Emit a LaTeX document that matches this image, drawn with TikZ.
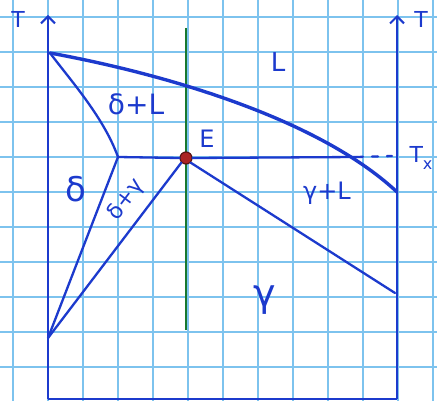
\documentclass[tikz,border=0pt]{standalone}
\usepackage{fontspec}
\setmainfont{DejaVu Sans}
\usetikzlibrary{arrows.meta}
\definecolor{gridblue}{RGB}{125,195,238}
\definecolor{ink}{RGB}{28,58,205}
\definecolor{stem}{RGB}{25,120,45}
\definecolor{dotred}{RGB}{170,35,35}
\tikzset{
  gridline/.style={gridblue,line width=2pt},
  axis/.style={ink,line width=2.4pt},
  phase/.style={ink,line width=2.3pt,line cap=round},
  liq/.style={ink,line width=3.4pt,line cap=round},
  lbl/.style={ink,inner sep=0pt},
}
\begin{document}
\begin{tikzpicture}[x=1pt,y=-1pt]
\useasboundingbox (0,0) rectangle (437,401);
\fill[white] (0,0) rectangle (437,401);
% grid
\foreach \gx in {13,48,...,433} \draw[gridline] (\gx,0) -- (\gx,401);
\foreach \gy in {17,52,...,402} \draw[gridline] (0,\gy) -- (437,\gy);
% axes
\coordinate (LB) at (48,399);
\coordinate (LT) at (48,15);
\coordinate (RB) at (397,399);
\coordinate (RT) at (397,15);
\draw[axis,-{Straight Barb[length=7pt,width=14pt,line width=2pt]}] (LB) -- (LT);
\draw[axis,-{Straight Barb[length=7pt,width=14pt,line width=2pt]}] (RB) -- (RT);
\draw[axis] (LB) -- (RB);
% green line
\coordinate (G1) at (186,28);
\coordinate (G2) at (186,330);
\draw[stem,line width=2.3pt] (G1) -- (G2);
% key points
\coordinate (A) at (50,53);
\coordinate (D) at (118,157);
\coordinate (P) at (48,338);
\coordinate (C) at (395,293);
\coordinate (R) at (397,192);
\coordinate (X1) at (357,157);
\coordinate (X2) at (392,156);
% liquidus
\draw[liq] (A) .. controls (170,75) and (320,120) .. (R);
% delta solidus
\draw[phase] (A) .. controls (72,82) and (104,118) .. (D);
% eutectic point and lines
\node[circle,fill=dotred,draw={rgb,255:red,90;green,20;blue,20},line width=1.2pt,minimum size=12pt,inner sep=0pt] (E) at (186,158) {};
\draw[phase] (D) -- (E.west);
\draw[phase] (E.east) -- (X1);
\draw[phase,dash pattern=on 6pt off 9pt] (X1) -- (X2);
\draw[phase] (D) -- (P);
\draw[phase] (E.south west) -- (P);
\draw[phase] (E.south east) -- (C);
% labels
\node[lbl,font=\fontsize{22}{22}\selectfont] (TL) at (18,19) {T};
\node[lbl,font=\fontsize{22}{22}\selectfont] (TR) at (421,19) {T};
\node[lbl,font=\fontsize{26}{26}\selectfont] (L) at (278,62) {L};
\node[lbl,font=\fontsize{28}{28}\selectfont] (DL) at (136,104) {δ+L};
\node[lbl,font=\fontsize{24}{24}\selectfont] (EL) at (207,139) {E};
\node[lbl,font=\fontsize{22}{22}\selectfont] (TX) at (421,158) {T\raisebox{-0.35em}{\fontsize{16}{16}\selectfont x}};
\node[lbl,font=\fontsize{34}{34}\selectfont] (DE) at (76,189) {δ};
\node[lbl,font=\fontsize{22}{22}\selectfont,rotate=53] (DG) at (126,200) {δ+γ};
\node[lbl,font=\fontsize{24}{24}\selectfont] (GL) at (327,193) {γ+L};
\node[lbl,font=\fontsize{38}{38}\selectfont] (GA) at (265,300) {γ};
\end{tikzpicture}
\end{document}
